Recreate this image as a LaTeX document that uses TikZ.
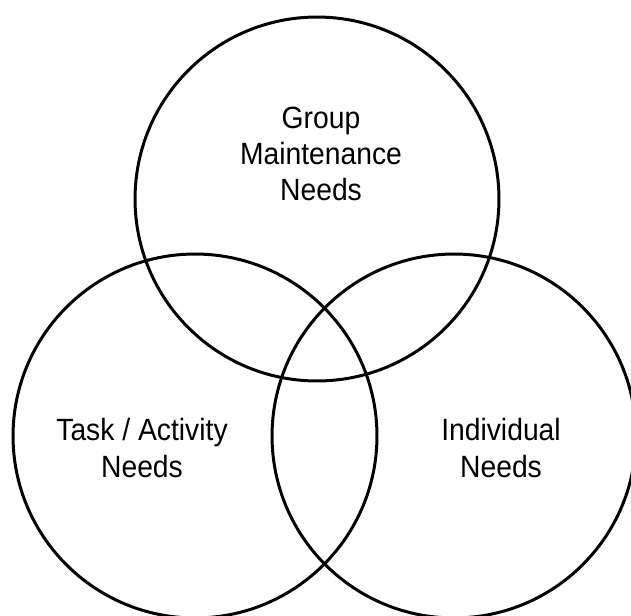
\documentclass[tikz,border=0pt]{standalone}
\usepackage{fontspec}
\setmainfont[FakeStretch=0.92]{Liberation Sans}
\usepackage{tikz}

\begin{document}
\begin{tikzpicture}[x = 0.02cm, y = -0.02cm, line width = 1.7pt,
                    need/.style = {circle, draw, minimum size = 7.28cm, inner sep = 0pt},
                    label/.style = {align = center, inner sep = 0pt,
                                    font = \fontsize{17.5}{20.5}\selectfont}]
      \useasboundingbox (0, 0) rectangle (631, 615);

      \node [need] (group) at (317, 199){};
      \node [need] (task) at (195, 436){};
      \node [need] (indiv) at (454, 436){};

      \node [label] (grouptext) at (321, 154){Group\\Maintenance\\Needs};
      \node [label] (tasktext) at (142, 448){Task / Activity\\Needs};
      \node [label] (indivtext) at (501, 448){Individual\\Needs};
      \end{tikzpicture}
\end{document}
